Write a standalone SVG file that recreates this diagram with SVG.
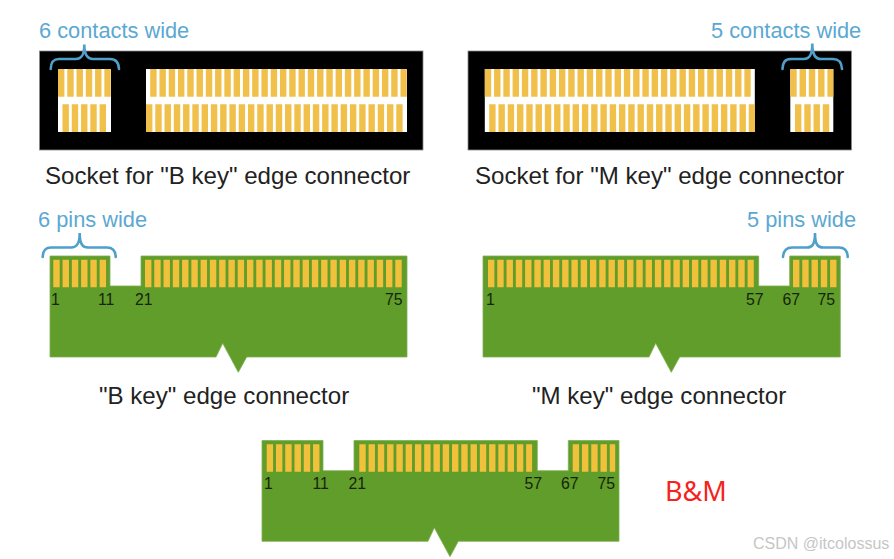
<svg xmlns="http://www.w3.org/2000/svg" width="894" height="559" viewBox="0 0 894 559">
<style>
text{font-family:"Liberation Sans",Arial,sans-serif}
.lab{font-size:24.1px;fill:#222}
.blue{font-size:21.8px;fill:#5ba8d2}
.num{font-size:15.8px;fill:#16240c}
.body{fill:#000;stroke:#8a8a8a;stroke-width:.8}
.win{fill:#fff}
.bar{stroke:#f0c04a;stroke-dasharray:6.4 2.87;fill:none}
.cb{stroke-width:27.7}
.pb{stroke:#f1c13c;stroke-width:27.5;stroke-dasharray:6.4 2.87;fill:none}
.board{fill:#619d2a;stroke:#7fae50;stroke-width:.8}
.brace{fill:none;stroke:#4f9fcb;stroke-width:2.6;stroke-linecap:round}
</style>
<rect width="894" height="559" fill="#fff"/>
<g id="socket-b">
<rect class="body" x="39.500" y="51" width="383.500" height="99"/>
<rect class="win" x="58" y="69" width="53" height="63"/>
<rect class="win" x="146" y="69" width="261" height="63"/>
<line class="bar cb" x1="58" x2="110.800" y1="82.900" y2="82.900"/>
<line class="bar cb" x1="62.500" x2="106.900" y1="118.200" y2="118.200"/>
<line class="bar cb" x1="150.200" x2="406.800" y1="82.900" y2="82.900"/>
<line class="bar cb" x1="146" x2="402.600" y1="118.200" y2="118.200"/>
<text class="lab" x="45" y="184">Socket for "B key" edge connector</text>
</g>
<g id="socket-m">
<rect class="body" x="468" y="51" width="383.500" height="99"/>
<rect class="win" x="484.800" y="69" width="270" height="63"/>
<rect class="win" x="790.300" y="69" width="43" height="63"/>
<line class="bar cb" x1="484.800" x2="750.700" y1="82.900" y2="82.900"/>
<line class="bar cb" x1="489.200" x2="755" y1="118.200" y2="118.200"/>
<line class="bar cb" x1="790.300" x2="833.400" y1="82.900" y2="82.900"/>
<line class="bar cb" x1="795" x2="829.200" y1="118.200" y2="118.200"/>
<text class="lab" x="475" y="184">Socket for "M key" edge connector</text>
</g>
<g id="connector-b">
<path class="board" d="M50 256H110V286H141V256H407V357H246.700L238.300 372.300L222.700 343.300L216 357H50Z"/>
<line class="pb" x1="53.300" x2="106.200" y1="273.500" y2="273.500"/>
<line class="pb" x1="145" x2="402.600" y1="273.500" y2="273.500"/>
<text class="num" x="51" y="305">1</text>
<text class="num" x="98" y="305">11</text>
<text class="num" x="135" y="305">21</text>
<text class="num" x="385" y="305">75</text>
<text class="lab" x="99" y="404">"B key" edge connector</text>
</g>
<g id="connector-m">
<path class="board" d="M483 256H758.700V286H789.700V256H840.300V357H679.700L671.300 372.300L655.700 343.300L649 357H483Z"/>
<line class="pb" x1="488" x2="753.800" y1="273.500" y2="273.500"/>
<line class="pb" x1="793" x2="837.500" y1="273.500" y2="273.500"/>
<text class="num" x="486" y="305">1</text>
<text class="num" x="746" y="305">57</text>
<text class="num" x="782.500" y="305">67</text>
<text class="num" x="817.500" y="305">75</text>
<text class="lab" x="532" y="404">"M key" edge connector</text>
</g>
<g id="connector-bm">
<path class="board" d="M262 440.500H323V470.700H354V440.500H537.300V470.700H568.300V440.500H619V541.300H458.300L450 556.700L434.300 527.700L428 541.300H262Z"/>
<line class="pb" x1="266.700" x2="319.600" y1="458" y2="458"/>
<line class="pb" x1="359.300" x2="532.100" y1="458" y2="458"/>
<line class="pb" x1="572.700" x2="615.200" y1="458" y2="458"/>
<text class="num" x="264" y="489">1</text>
<text class="num" x="312.500" y="489">11</text>
<text class="num" x="348.500" y="489">21</text>
<text class="num" x="524.500" y="489">57</text>
<text class="num" x="561" y="489">67</text>
<text class="num" x="597.500" y="489">75</text>
</g>
<g id="connectors">
<path class="brace" d="M50.700 69C51 62 53 59 59 59H76C81 59 84.300 56 84.300 44.500C84.300 56 88 59 93 59H110C116 59 118.700 62 119 69"/>
<path class="brace" d="M782.500 69C783 62 785 59 791 59H804C809 59 812.300 56 812.300 43.500C812.300 56 816 59 821 59H833C839 59 841.500 62 842 69"/>
<path class="brace" d="M42.700 257C43 250.500 45 247.500 51 247.500H71C76 247.500 79.700 245 79.700 233C79.700 245 83 247.500 88 247.500H107C113 247.500 115.500 250.500 115.700 257"/>
<path class="brace" d="M783 257C783.500 250.500 786 247.500 792 247.500H807C812 247.500 815 245 815 233C815 245 818 247.500 823 247.500H839C845 247.500 847.500 250.500 847.700 257"/>
</g>
<g id="labels">
<text class="blue" x="39" y="38">6 contacts wide</text>
<text class="blue" x="711" y="38">5 contacts wide</text>
<text class="blue" x="38" y="227">6 pins wide</text>
<text class="blue" x="747" y="227">5 pins wide</text>
<text x="665" y="501" font-size="27" fill="#f5231c" style="font-family:'Noto Sans',sans-serif">B&amp;M</text>
<text x="753" y="549" font-size="16" fill="#c6c6c6">CSDN @itcolossus</text>
</g>
</svg>
